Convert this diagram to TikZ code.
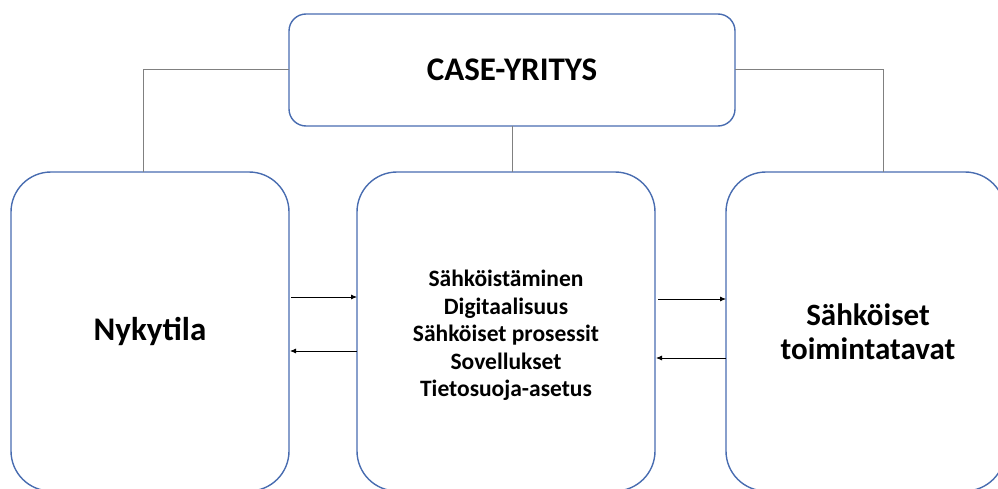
\documentclass[tikz,border=0pt]{standalone}
\usepackage{fontspec}
\setmainfont{Carlito}
\usetikzlibrary{arrows.meta}
\definecolor{boxblue}{RGB}{72,108,176}
\definecolor{conngray}{RGB}{128,128,128}
\tikzset{
  bigbox/.style={draw=boxblue, line width=1.4pt, rounded corners=40pt, inner sep=0pt, outer sep=0pt, align=center, font=\bfseries\fontsize{33}{38}\selectfont},
  topbox/.style={draw=boxblue, line width=1.4pt, rounded corners=17pt, inner sep=0pt, outer sep=0pt, font=\bfseries\fontsize{33}{38}\selectfont},
  listtext/.style={inner sep=0pt, align=center, font=\bfseries\fontsize{23.5}{27.5}\selectfont},
  conn/.style={draw=conngray, line width=1pt},
  flow/.style={draw=black, line width=0.8pt, -{Latex[length=6pt,width=5pt]}}
}
\begin{document}
\begin{tikzpicture}[x=1pt,y=-1pt]
\useasboundingbox (0,0) rectangle (998,489);
\node[topbox, minimum width=446pt, minimum height=112pt] (top) at (512,70) {CASE-YRITYS};
\node[bigbox, minimum width=278pt, minimum height=319pt] (left) at (150,331.5) {Nykytila};
\node[bigbox, minimum width=298pt, minimum height=319pt] (mid) at (506,331.5) {};
\node[listtext] (midtext) at ([yshift=-4pt]mid.center) {Sähköistäminen\\Digitaalisuus\\Sähköiset prosessit\\Sovellukset\\Tietosuoja-asetus};
\node[bigbox, minimum width=279pt, minimum height=319pt, font=\bfseries\fontsize{31}{34}\selectfont] (right) at (865.5,331.5) {\hspace*{5pt}Sähköiset\\\hspace*{5pt}toimintatavat};
\draw[conn] (top.west) -| ([xshift=-7pt]left.north);
\draw[conn] (top.south) -- (top.south |- mid.north);
\draw[conn] (top.east) -| ([xshift=17.5pt]right.north);
\draw[flow] ([xshift=2pt]left.east |- 0,297) -- (mid.west |- 0,297);
\draw[flow] (mid.west |- 0,351) -- ([xshift=1pt]left.east |- 0,351);
\draw[flow] ([xshift=3pt]mid.east |- 0,299) -- (right.west |- 0,299);
\draw[flow] (right.west |- 0,358) -- ([xshift=1pt]mid.east |- 0,358);
\end{tikzpicture}
\end{document}
